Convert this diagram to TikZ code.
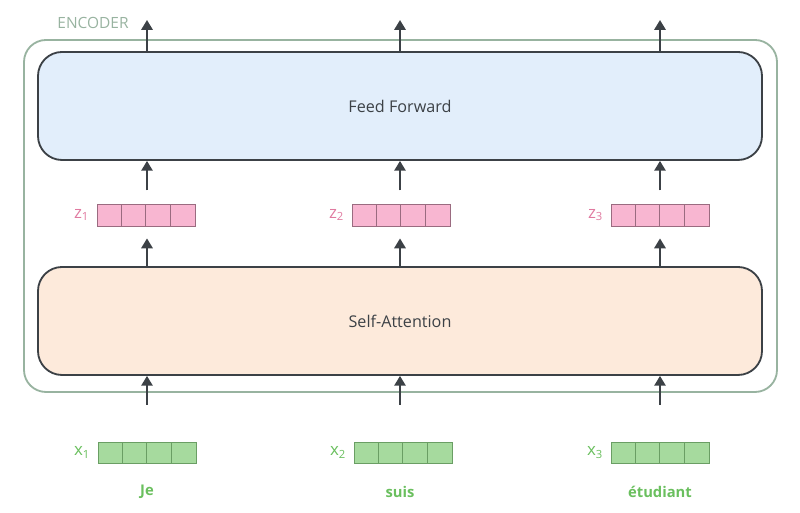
\documentclass[tikz,border=0pt]{standalone}
\usepackage{fontspec}
\setmainfont{Open Sans}
\usetikzlibrary{positioning, arrows.meta}
\definecolor{EncoderGray}{HTML}{98B3A0}
\definecolor{BoxStroke}{HTML}{3C4146}
\definecolor{FFFill}{HTML}{E2EEFB}
\definecolor{SAFill}{HTML}{FDEADB}
\definecolor{ZFill}{HTML}{F8B6D1}
\definecolor{ZStroke}{HTML}{9A6B80}
\definecolor{ZText}{HTML}{E07AA0}
\definecolor{XFill}{HTML}{A6DA9E}
\definecolor{XStroke}{HTML}{6A9E64}
\definecolor{XText}{HTML}{6ABF5E}

\begin{document}
\begin{tikzpicture}[
            encoder/.style={draw=EncoderGray, line width=1.3pt, rounded corners=0.55cm, minimum width=18.825cm, minimum height=8.8cm},
            layer/.style={draw=BoxStroke, line width=1.3pt, rounded corners=0.6cm, minimum width=18.1cm, minimum height=2.7cm, align=center, font=\fontsize{11.5}{13}\selectfont, text=BoxStroke},
            zvec/.style={draw=ZStroke, fill=ZFill, line width=0.6pt, minimum width=2.45cm, minimum height=0.55cm, inner sep=0pt},
            xvec/.style={draw=XStroke, fill=XFill, line width=0.6pt, minimum width=2.45cm, minimum height=0.525cm, inner sep=0pt},
            zlabel/.style={text=ZText, font=\fontsize{12}{13}\selectfont, inner sep=0pt},
            xlabel/.style={text=XText, font=\fontsize{12}{13}\selectfont, inner sep=0pt},
            word/.style={text=XText, font=\fontsize{10.5}{13}\selectfont\bfseries},
            arrow/.style={-{Triangle[width=8pt, length=7pt]}, line width=1.5pt, BoxStroke}
        ]
            \useasboundingbox (0,0) rectangle (20,12.825);

            \node[encoder] (enc) at (10.0125,7.425) {};
            \node[text=EncoderGray, font=\fontsize{11}{12}\selectfont] (enclabel) at (2.325,12.25) {ENCODER};

            \node[layer, fill=FFFill] (ff) at (10,10.175) {Feed Forward};
            \node[layer, fill=SAFill] (sa) at (10,4.8) {Self-Attention};

            % vectors and words, one column each
            \node[zvec] (z1) at (3.65,7.45) {};
            \node[zvec] (z2) at (10.025,7.45) {};
            \node[zvec] (z3) at (16.5,7.45) {};
            \node[xvec] (x1) at (3.675,1.5125) {};
            \node[xvec] (x2) at (10.075,1.5125) {};
            \node[xvec] (x3) at (16.5,1.5125) {};
            \foreach \v in {z1,z2,z3} {
                \foreach \k in {1,2,3}
                    \draw[ZStroke, line width=0.6pt] ([xshift=\k*0.6125cm]\v.south west) -- ([xshift=\k*0.6125cm]\v.north west);
            }
            \foreach \v in {x1,x2,x3} {
                \foreach \k in {1,2,3}
                    \draw[XStroke, line width=0.6pt] ([xshift=\k*0.6125cm]\v.south west) -- ([xshift=\k*0.6125cm]\v.north west);
            }

            \node[zlabel, left=0.18cm of z1] (lz1) {z\textsubscript{1}};
            \node[zlabel, left=0.18cm of z2] (lz2) {z\textsubscript{2}};
            \node[zlabel, left=0.18cm of z3] (lz3) {z\textsubscript{3}};
            \node[xlabel, left=0.18cm of x1] (lx1) {x\textsubscript{1}};
            \node[xlabel, left=0.18cm of x2] (lx2) {x\textsubscript{2}};
            \node[xlabel, left=0.18cm of x3] (lx3) {x\textsubscript{3}};

            \node[word] (je) at (3.675,0.525) {Je};
            \node[word] (suis) at (10,0.525) {suis};
            \node[word] (etudiant) at (16.5,0.525) {étudiant};

            \coordinate (out1) at (3.675,12.325);
            \coordinate (out2) at (10,12.325);
            \coordinate (out3) at (16.5,12.325);

            \draw[arrow] (out1 |- ff.north) -- (out1);
            \draw[arrow] (out2 |- ff.north) -- (out2);
            \draw[arrow] (out3 |- ff.north) -- (out3);
            \draw[arrow, shorten <=0.33cm] (out1 |- z1.north) -- (out1 |- ff.south);
            \draw[arrow, shorten <=0.33cm] (out2 |- z2.north) -- (out2 |- ff.south);
            \draw[arrow, shorten <=0.33cm] (out3 |- z3.north) -- (out3 |- ff.south);
            \draw[arrow, shorten >=0.3cm] (out1 |- sa.north) -- (out1 |- z1.south);
            \draw[arrow, shorten >=0.3cm] (out2 |- sa.north) -- (out2 |- z2.south);
            \draw[arrow, shorten >=0.3cm] (out3 |- sa.north) -- (out3 |- z3.south);
            \draw[arrow, shorten <=0.92cm] (out1 |- x1.north) -- (out1 |- sa.south);
            \draw[arrow, shorten <=0.92cm] (out2 |- x2.north) -- (out2 |- sa.south);
            \draw[arrow, shorten <=0.92cm] (out3 |- x3.north) -- (out3 |- sa.south);
        \end{tikzpicture}
\end{document}
